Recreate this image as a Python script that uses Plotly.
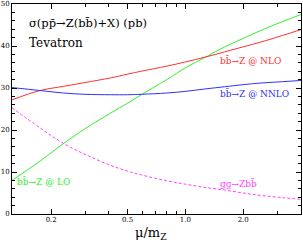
import plotly.graph_objects as go
import math

mu = [0.125, 0.175, 0.232, 0.3, 0.407, 0.5, 0.59, 0.8, 1.0, 1.28, 1.6, 2.0, 2.5, 3.2, 4.0]
lo = [8.0, 12.6, 16.8, 20.3, 24.0, 26.4, 28.4, 32.0, 34.8, 37.4, 39.8, 41.8, 43.8, 45.8, 47.5]
nlo = [27.2, 29.4, 30.4, 31.3, 32.4, 33.3, 34.0, 35.2, 36.2, 37.4, 38.6, 39.8, 41.0, 42.5, 43.9]
nnlo = [30.1, 29.4, 28.8, 28.5, 28.4, 28.4, 28.5, 28.8, 29.2, 29.8, 30.3, 30.8, 31.2, 31.5, 31.8]
gg = [25.3, 20.5, 16.8, 14.2, 11.6, 10.2, 9.3, 7.9, 7.1, 6.3, 5.7, 5.0, 4.4, 3.9, 3.5]

xticks = [0.2, 0.5, 1.0, 2.0]
xticklabels = ["0.2", "0.5", "1.0", "2.0"]
xminor = [0.3, 0.4, 0.6, 0.7, 0.8, 0.9, 3.0]

RED = "#ff3030"
BLUE = "#3030ff"
GREEN = "#30f030"
MAG = "#ff40ff"

fig = go.Figure()
fig.add_trace(go.Scatter(x=mu, y=lo, mode="lines", line=dict(color=GREEN, width=1, shape="spline")))
fig.add_trace(go.Scatter(x=mu, y=nlo, mode="lines", line=dict(color=RED, width=1, shape="spline")))
fig.add_trace(go.Scatter(x=mu, y=nnlo, mode="lines", line=dict(color=BLUE, width=1, shape="spline")))
fig.add_trace(go.Scatter(x=mu, y=gg, mode="lines", line=dict(color=MAG, width=1, shape="spline", dash="3px,2px")))

SERIF = "DejaVu Serif"
tickfont = dict(family=SERIF, size=7, color="black")

fig.update_xaxes(type="log", range=[math.log10(0.125), math.log10(4.0)], automargin=False,
                 tickvals=xticks, ticktext=xticklabels, ticks="inside", ticklen=5,
                 tickcolor="black", showline=True, linecolor="black", linewidth=1,
                 mirror="ticks", showgrid=False, zeroline=False, tickfont=tickfont,
                 ticklabelstandoff=-1,
                 minor=dict(tickvals=xminor, ticks="inside", ticklen=3, tickcolor="black", showgrid=False))
fig.update_yaxes(range=[0, 50], dtick=10, ticks="inside", ticklen=5, tickcolor="black", automargin=False,
                 showline=True, linecolor="black", linewidth=1, mirror="ticks",
                 showgrid=False, zeroline=False, tickfont=tickfont,
                 minor=dict(dtick=2, ticks="inside", ticklen=3, tickcolor="black", showgrid=False))

def ann(text, x, y, color="black", size=9, xanchor="left"):
    fig.add_annotation(text=text, x=x, y=y, xref="paper", yref="paper", showarrow=False,
                       xanchor=xanchor, yanchor="middle", font=dict(family=SERIF, size=size, color=color))

ann("σ(pp\u0304→Z(bb\u0304)+X) (pb)", 0.052, 0.909, size=11.5)
ann("Tevatron", 0.052, 0.814, size=12)
ann("bb\u0304→Z @ NLO", 0.713, 0.733, color=RED)
ann("bb\u0304→Z @ NNLO", 0.713, 0.576, color=BLUE)
ann("bb\u0304→Z @ LO", 0.010, 0.156, color=GREEN)
ann("gg→Zbb\u0304", 0.713, 0.146, color=MAG)
ann("μ/m<sub>Z</sub>", 0.478, -0.092, size=13, xanchor="center")

fig.update_layout(width=303, height=242, margin=dict(l=12, r=2, t=4, b=28),
                  plot_bgcolor="white", paper_bgcolor="white", showlegend=False)
fig.write_html("out.html", config={"displayModeBar": False},
               post_script="document.body.style.margin='0';document.body.style.padding='0';")
